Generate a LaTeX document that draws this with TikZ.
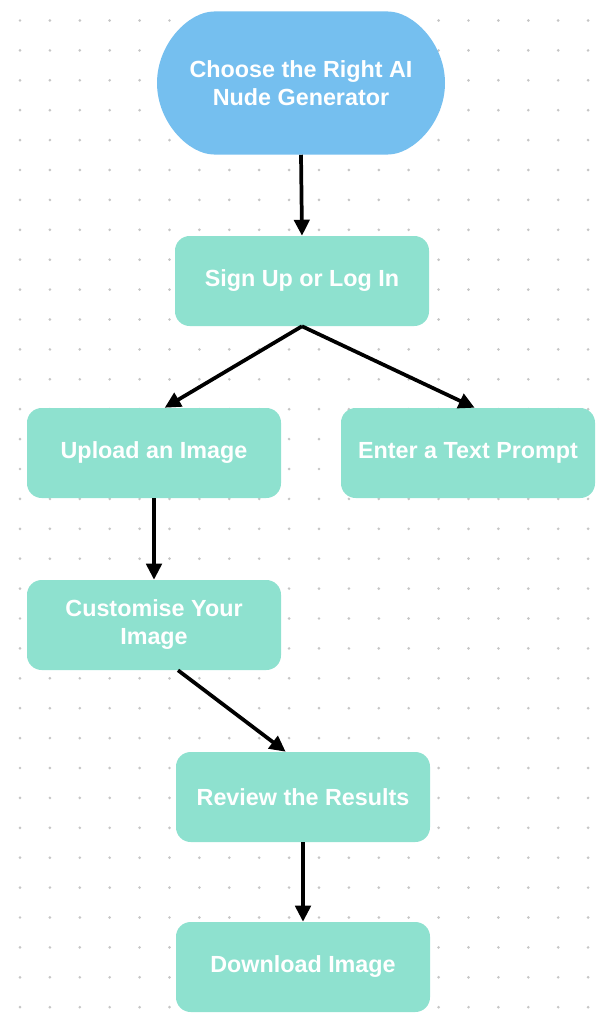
\documentclass[tikz,border=0pt]{standalone}
\usepackage{fontspec}
\setmainfont{Liberation Sans}
\usetikzlibrary{arrows.meta,shapes.misc}
\definecolor{skyblue}{HTML}{75BFEF}
\definecolor{mint}{HTML}{8EE1CF}
\definecolor{dotgray}{HTML}{C6C6C6}
\tikzset{
  stepbox/.style={draw=none,fill=mint,rounded corners=11pt,minimum width=190.5pt,minimum height=67.5pt,
    text=white,font=\fontsize{17.5}{21}\selectfont\bfseries,align=center,inner sep=0pt},
  startbox/.style={stepbox,fill=skyblue,rounded rectangle,minimum width=216pt,minimum height=107.25pt},
  flow/.style={line width=2.8pt,-{Triangle[length=12pt,width=11.5pt]}}
}

\begin{document}
\begin{tikzpicture}[x=0.75pt,y=-0.75pt]
\useasboundingbox (0,0) rectangle (614,1024);
% dotted background
\foreach \c in {0,...,19} \foreach \r in {0,...,33}
  \fill[dotgray] (20+\c*29.9,20.5+\r*29.9) circle (1.1pt);
\node[startbox] (choose) at (301,83) {Choose the Right AI\\Nude Generator};
\node[stepbox] (signup) at (302,281) {Sign Up or Log In};
\node[stepbox] (upload) at (154,453) {Upload an Image};
\node[stepbox] (prompt) at (468,453) {Enter a Text Prompt};
\node[stepbox] (custom) at (154,625) {Customise Your\\Image};
\node[stepbox] (review) at (303,797) {Review the Results};
\node[stepbox] (download) at (303,967) {Download Image};
\draw[flow] (choose.south) -- (signup.north);
\draw[flow] (signup.south) -- ([xshift=8pt]upload.north);
\draw[flow] (signup.south) -- ([xshift=5pt]prompt.north);
\draw[flow] (upload.south) -- (custom.north);
\draw[flow] ([xshift=18pt]custom.south) -- ([xshift=-13pt]review.north);
\draw[flow] (review.south) -- (download.north);
\end{tikzpicture}
\end{document}
